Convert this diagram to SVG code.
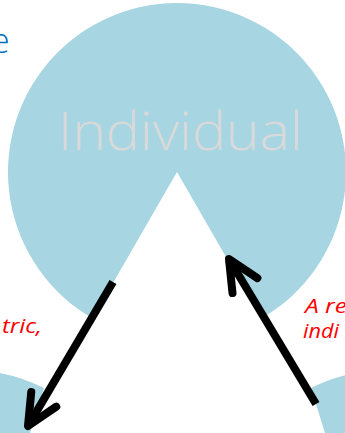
<svg xmlns="http://www.w3.org/2000/svg" width="345" height="433" viewBox="0 0 345 433">
  <style>
    .disc { fill: #a7d5e2; }
    .title { font-family: "Open Sans", "Lato", "Liberation Sans", sans-serif; font-weight: 300; fill: #d9d9d9; }
    .note { font-family: "Open Sans", "Lato", "Liberation Sans", sans-serif; font-style: italic; fill: #ff0000; font-size: 20px; }
    .blue { font-family: "Open Sans", "Lato", "Liberation Sans", sans-serif; font-weight: 300; fill: #0070c0; font-size: 34px; }
    .shaft { stroke: #000; stroke-width: 8; fill: none; stroke-linecap: butt; }
  </style>
  <defs>
    <marker id="head" markerUnits="userSpaceOnUse" viewBox="-40 -22 50 44" refX="0" refY="0" markerWidth="50" markerHeight="44" orient="auto" overflow="visible">
      <path d="M-31,-14.5 L0,0 L-31,14.5" fill="none" stroke="#000" stroke-width="8" stroke-linecap="round" stroke-linejoin="round"/>
    </marker>
  </defs>

  <rect width="345" height="433" fill="#ffffff"/>

  <!-- top disc with a 60 degree slice removed, pointing down -->
  <g id="individual">
    <path class="disc" d="M177,172 L261.5,318.4 A169,169 0 1,0 92.5,318.4 Z"/>
    <text class="title" x="58" y="150" font-size="54" textLength="245" lengthAdjust="spacingAndGlyphs">Individual</text>
  </g>

  <!-- lower left disc, partly in view -->
  <g id="disc-left">
    <path class="disc" d="M0,373 A175,175 0 0,1 44,388 L30,433 L0,433 Z"/>
  </g>

  <!-- lower right disc, partly in view -->
  <g id="disc-right">
    <path class="disc" d="M311,388 A175,175 0 0,1 355,373 L355,433 L325,433 Z"/>
  </g>

  <!-- side notes -->
  <g id="note-left-top">
    <text class="blue" x="-9" y="53">e</text>
  </g>
  <g id="note-left">
    <text class="note" x="2" y="333" textLength="40" lengthAdjust="spacingAndGlyphs">tric,</text>
  </g>
  <g id="note-right">
    <text class="note" x="305" y="313" textLength="42" lengthAdjust="spacingAndGlyphs">A re</text>
    <text class="note" x="303" y="338" textLength="36" lengthAdjust="spacingAndGlyphs">indi</text>
  </g>

  <!-- connectors -->
  <g id="connectors">
    <path class="shaft" d="M113,282 L28,426" marker-end="url(#head)"/>
    <path class="shaft" d="M316,404 L229,259" marker-end="url(#head)"/>
  </g>
</svg>
